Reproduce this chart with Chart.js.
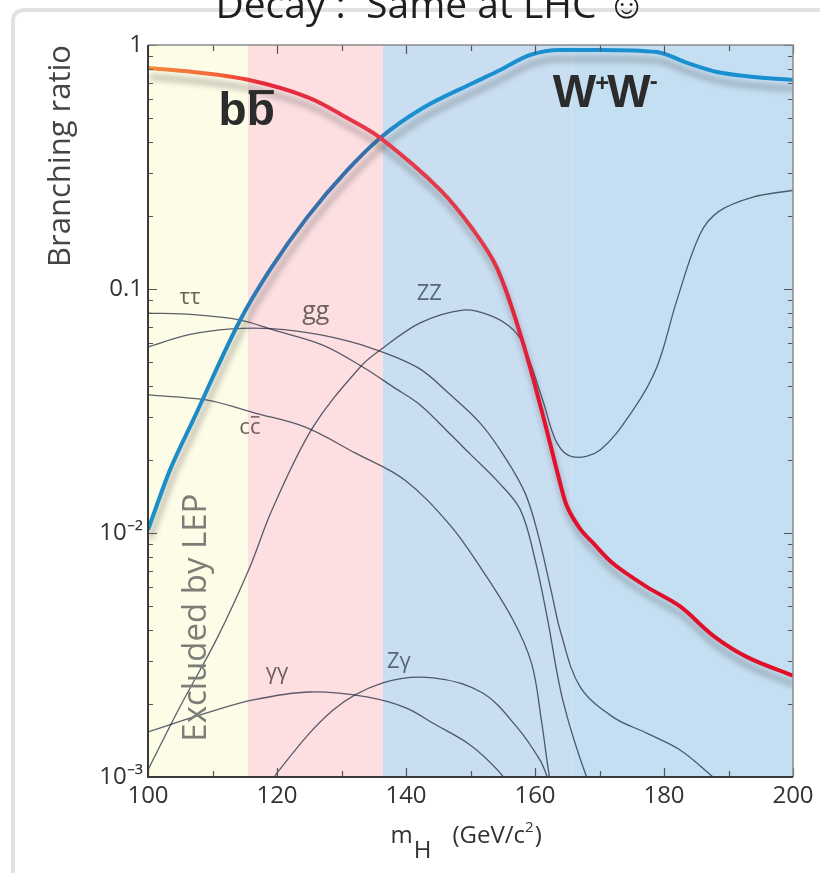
<!DOCTYPE html>
<html>
<head>
<meta charset="utf-8">
<script src="https://cdn.jsdelivr.net/npm/chart.js@4.4.1/dist/chart.umd.min.js"></script>
<style>
  html, body { margin: 0; padding: 0; background: #fff; }
  #wrap { width: 840px; height: 873px; position: relative; }
</style>
</head>
<body>
<div id="wrap"><canvas id="br-chart"></canvas></div>
<script>
// Higgs branching ratios against m_H

const bbMass = [100, 107, 115.5, 124.7, 130.9, 136, 145.3, 150.4, 154.1, 157.9, 161, 163.9, 165, 167, 169, 172.1, 177.4, 182.5, 187.6, 192.9, 200]
const bbBR = [0.805, 0.775, 0.72, 0.612, 0.502, 0.416, 0.255, 0.175, 0.122, 0.063, 0.032, 0.016, 0.0128, 0.0104, 0.0091, 0.0075, 0.006, 0.005, 0.0038, 0.0031, 0.0026]

const wwMass = [100, 103.4, 107, 114.3, 118.9, 124.7, 130.9, 136, 142.6, 150.4, 154.6, 159.2, 163.9, 170, 178.9, 183.6, 188.2, 194, 200]
const wwBR = [0.0103, 0.0181, 0.029, 0.0746, 0.1197, 0.197, 0.307, 0.416, 0.552, 0.699, 0.79, 0.91, 0.955, 0.955, 0.936, 0.844, 0.775, 0.74, 0.719]

const zzMass = [100, 105, 110.7, 115.8, 119.2, 125.6, 132.9, 136, 142.2, 148.8, 153, 156.1, 158.1, 161.2, 163.4, 165.9, 170.1, 175.2, 178.9, 182, 185.6, 188.5, 193.8, 200]
const zzBR = [0.00107, 0.00195, 0.0037, 0.00726, 0.0124, 0.0272, 0.0479, 0.0562, 0.0726, 0.082, 0.078, 0.07, 0.06, 0.035, 0.0234, 0.0205, 0.0219, 0.0319, 0.0479, 0.09, 0.168, 0.208, 0.238, 0.254]

const tautauMass = [100, 107, 114.3, 119.4, 127.1, 133.3, 138, 142.2, 146.8, 150, 154, 157.7, 160, 161.9, 164.3, 168, 170]
const tautauBR = [0.0797, 0.0785, 0.0746, 0.068, 0.0589, 0.0479, 0.0397, 0.0335, 0.0255, 0.021, 0.0165, 0.0125, 0.0078, 0.0045, 0.00207, 0.001, 0.0008]

const ggMass = [100, 106.2, 112.9, 119.1, 126.8, 134.6, 141.9, 146.8, 151.6, 155.3, 158.5, 160.5, 162.5, 164, 167, 172.1, 177.4, 182.5, 187.6, 192]
const ggBR = [0.0578, 0.0648, 0.0686, 0.0688, 0.0648, 0.0573, 0.0475, 0.037, 0.028, 0.0205, 0.0145, 0.0098, 0.0058, 0.0039, 0.00234, 0.00176, 0.00151, 0.00129, 0.001, 0.0008]

const ccMass = [100, 109, 116.6, 124.3, 132.1, 139.8, 146.8, 151.5, 156.6, 159.5, 161, 162, 162.8]
const ccBR = [0.0368, 0.0351, 0.031, 0.0272, 0.0213, 0.0165, 0.0108, 0.00726, 0.0044, 0.0029, 0.0017, 0.0011, 0.0008]

const gamgamMass = [100, 109.1, 116.3, 125.1, 133.9, 140, 144.2, 150, 154.6, 156]
const gamgamBR = [0.00153, 0.00183, 0.00207, 0.00223, 0.00213, 0.00192, 0.00166, 0.00135, 0.00104, 0.0009]

const zgamMass = [119, 120, 128.7, 136.4, 144.2, 151.9, 157.2, 160.8, 161.9, 162.5]
const zgamBR = [0.0009, 0.00104, 0.00188, 0.00243, 0.00255, 0.00221, 0.0016, 0.00117, 0.001, 0.0009]

// mass ranges of the shaded regions
const bandEdges = [100, 115.5, 136.4, 165.7, 200]
const bandColors = ['#fdfce6', '#fddfe2', '#c9def1', '#c4dff2']

const yTickValues = [1, 0.1, 0.01, 0.001]
const yTickLabels = ['1', '0.1', '10⁻²', '10⁻³']

// curve names and where they sit (mass, BR)
const curveNames = ['ττ', 'gg', 'cc', 'ZZ', 'γγ', 'Zγ']
const curveNameSpots = [[106.5, 0.092], [126, 0.0805], [115.8, 0.0269], [143.6, 0.0955], [120, 0.00267], [138.9, 0.00296]]


const pts = (m, v) => m.map((x, i) => ({x: x, y: v[i]}))

const gradientFor = function (stops, fallback) {
  return function (context) {
    const chart = context.chart
    if (!chart.chartArea) return fallback
    const xs = chart.scales.x
    const g = chart.ctx.createLinearGradient(xs.getPixelForValue(100), 0, xs.getPixelForValue(200), 0)
    stops.forEach(s => g.addColorStop((s[0] - 100) / 100, s[1]))
    return g
  }
}

const thin = 'rgba(28, 38, 58, 0.72)'

const thinLine = (label, data) => ({
  label: label,
  data: data,
  borderColor: thin,
  borderWidth: 1.3,
  pointRadius: 0,
  fill: false,
  tension: 0.35
})

const bandsPlugin = {
  id: 'bands',
  beforeDatasetsDraw(chart) {
    const {ctx, chartArea: a, scales: {x}} = chart
    ctx.save()
    for (let i = 0; i < bandEdges.length - 1; i++) {
      const x0 = x.getPixelForValue(bandEdges[i])
      const x1 = x.getPixelForValue(bandEdges[i + 1])
      ctx.fillStyle = bandColors[i]
      ctx.fillRect(x0, a.top, x1 - x0, a.bottom - a.top)
    }
    ctx.restore()
  }
}

const shadowPlugin = {
  id: 'shadow',
  beforeDatasetDraw(chart, args) {
    if (!chart.data.datasets[args.index].shadow) return
    const ctx = chart.ctx
    ctx.save()
    ctx.shadowColor = 'rgba(70, 70, 70, 0.45)'
    ctx.shadowBlur = 6
    ctx.shadowOffsetX = 2
    ctx.shadowOffsetY = 9
  },
  afterDatasetDraw(chart, args) {
    if (chart.data.datasets[args.index].shadow) chart.ctx.restore()
  }
}

const frameTicks = {
  id: 'frameTicks',
  afterDatasetsDraw(chart) {
    const {ctx, chartArea: a, scales: {x, y}} = chart
    ctx.save()
    ctx.strokeStyle = '#555'
    ctx.lineWidth = 1.2
    ctx.beginPath()
    x.ticks.forEach(t => {
      const px = Math.round(x.getPixelForValue(t.value)) + 0.5
      const len = t.value % 20 === 0 ? 9 : 6
      ctx.moveTo(px, a.bottom); ctx.lineTo(px, a.bottom - len)
      ctx.moveTo(px, a.top); ctx.lineTo(px, a.top + len)
    })
    y.ticks.forEach(t => {
      const e = Math.floor(Math.log10(t.value) + 1e-9)
      const sig = t.value / Math.pow(10, e)
      if (Math.abs(sig - Math.round(sig)) > 1e-6) return
      const py = Math.round(y.getPixelForValue(t.value)) + 0.5
      const len = Math.round(sig) === 1 ? 9 : 5
      ctx.moveTo(a.left, py); ctx.lineTo(a.left + len, py)
      ctx.moveTo(a.right, py); ctx.lineTo(a.right - len, py)
    })
    ctx.stroke()
    ctx.strokeStyle = '#8a8a8a'
    ctx.lineWidth = 1.5
    ctx.beginPath()
    ctx.moveTo(a.left, a.top); ctx.lineTo(a.right, a.top); ctx.lineTo(a.right, a.bottom)
    ctx.stroke()
    ctx.strokeStyle = '#3a3a3a'
    ctx.lineWidth = 2
    ctx.beginPath()
    ctx.moveTo(a.left, a.top); ctx.lineTo(a.left, a.bottom); ctx.lineTo(a.right, a.bottom)
    ctx.stroke()
    ctx.restore()
  }
}

const textPlugin = {
  id: 'texts',
  beforeDraw(chart) {
    const ctx = chart.ctx
    ctx.save()
    ctx.fillStyle = '#fff'
    ctx.fillRect(0, 0, chart.width, chart.height)
    // faint slide frame
    ctx.strokeStyle = '#e2e2e2'
    ctx.lineWidth = 4
    ctx.beginPath()
    ctx.moveTo(13, 880); ctx.lineTo(13, 22); ctx.quadraticCurveTo(13, 10, 25, 10); ctx.lineTo(820, 10)
    ctx.stroke()
    ctx.restore()
  },
  afterDraw(chart) {
    const {ctx, chartArea: a, scales: {x, y}} = chart
    ctx.save()
    ctx.textBaseline = 'alphabetic'

    // slide title, cut by the top edge
    ctx.fillStyle = '#1e1e1e'
    ctx.font = '39px "Open Sans"'
    ctx.textAlign = 'center'
    ctx.fillText('Decay :  Same at LHC ☺', 431, 18)

    // x axis title m_H (GeV/c^2)
    ctx.fillStyle = '#333'
    ctx.textAlign = 'left'
    const cx = (a.left + a.right) / 2
    let px = cx - 80
    ctx.font = '24px "Open Sans"'
    ctx.fillText('m', px, 843)
    px += ctx.measureText('m').width + 1
    ctx.fillText('H', px, 858)
    px = cx - 18
    ctx.fillText('(GeV/c', px, 843)
    px += ctx.measureText('(GeV/c').width
    ctx.font = '15px "Open Sans"'
    ctx.fillText('2', px, 832)
    px += ctx.measureText('2').width + 1
    ctx.font = '24px "Open Sans"'
    ctx.fillText(')', px, 843)

    ctx.textBaseline = 'middle'
    ctx.textAlign = 'center'

    // bb-bar
    ctx.fillStyle = '#2b2b2b'
    ctx.font = 'bold 46px "Liberation Sans"'
    const bx = x.getPixelForValue(115.3), by = y.getPixelForValue(0.531)
    const bw = ctx.measureText('b').width
    ctx.textAlign = 'left'
    ctx.fillText('bb', bx - bw, by)
    ctx.fillRect(bx + 2, by - 22, bw - 3, 4)

    // W+W-
    ctx.font = 'bold 46px "Liberation Sans"'
    let wx = x.getPixelForValue(171.6) - 57
    const wy = y.getPixelForValue(0.63)
    const ww = ctx.measureText('W').width
    ctx.fillText('W', wx, wy)
    wx += ww
    ctx.font = 'bold 24px "Liberation Sans"'
    ctx.fillText('+', wx - 1, wy - 10)
    wx += ctx.measureText('+').width - 3
    ctx.font = 'bold 46px "Liberation Sans"'
    ctx.fillText('W', wx, wy)
    wx += ww
    ctx.font = 'bold 24px "Liberation Sans"'
    ctx.fillText('-', wx - 1, wy - 12)

    // smaller curve names
    ctx.textAlign = 'center'
    curveNames.forEach((name, i) => {
      const sx = x.getPixelForValue(curveNameSpots[i][0])
      const sy = y.getPixelForValue(curveNameSpots[i][1])
      const inBlue = curveNameSpots[i][0] > bandEdges[2]
      ctx.fillStyle = inBlue ? '#56667c' : '#6e605c'
      ctx.font = (name === 'gg' ? 25 : 22) + 'px "Open Sans"'
      ctx.fillText(name, sx, sy)
      if (name === 'cc') {
        const cw = ctx.measureText('c').width
        ctx.fillRect(sx + 1, sy - 12, cw - 2, 1.5)
      }
    })

    // excluded region note
    ctx.save()
    ctx.translate(x.getPixelForValue(107.6), y.getPixelForValue(0.0045))
    ctx.rotate(-Math.PI / 2)
    ctx.fillStyle = '#7d7d78'
    ctx.font = '33px "Open Sans"'
    ctx.fillText('Excluded by LEP', 0, 0)
    ctx.restore()

    ctx.restore()
  }
}

const makeChart = function () {
  const ctx = document.getElementById('br-chart')
  return new Chart(ctx, {
    type: 'line',
    data: {
      datasets: [
        {
          label: 'bb',
          data: pts(bbMass, bbBR),
          borderColor: gradientFor([[100, '#f58a3c'], [111, '#f2643a'], [118, '#e8263a'], [136, '#e43a4c'], [152, '#e2384a'], [162, '#e3102c'], [200, '#df1028']], '#e42a3a'),
          borderWidth: 4,
          pointRadius: 0,
          fill: false,
          shadow: true,
          tension: 0.35
        },
        {
          label: 'WW',
          data: pts(wwMass, wwBR),
          borderColor: gradientFor([[100, '#1a90c8'], [112, '#1b8ac4'], [119, '#3473ad'], [133, '#3a6fa8'], [140, '#1b90d0'], [200, '#1a8fd0']], '#1a8fd0'),
          borderWidth: 4,
          pointRadius: 0,
          fill: false,
          shadow: true,
          cubicInterpolationMode: 'monotone'
        },
        thinLine('ZZ', pts(zzMass, zzBR)),
        thinLine('tautau', pts(tautauMass, tautauBR)),
        thinLine('gg', pts(ggMass, ggBR)),
        thinLine('cc', pts(ccMass, ccBR)),
        thinLine('gamgam', pts(gamgamMass, gamgamBR)),
        thinLine('Zgam', pts(zgamMass, zgamBR))
      ]
    },
    options: {
      responsive: true,
      maintainAspectRatio: false,
      animation: false,
      layout: { padding: { top: 45, right: 47, bottom: 0, left: 0 } },
      plugins: {
        legend: { display: false },
        tooltip: { enabled: false }
      },
      scales: {
        x: {
          type: 'linear',
          min: 100,
          max: 200,
          grid: { display: false, drawTicks: false },
          border: { display: false },
          afterFit: function (scale) { scale.height = 96 },
          ticks: {
            stepSize: 10,
            autoSkip: false,
            maxRotation: 0,
            padding: 5,
            color: '#333',
            font: { family: 'Open Sans', size: 24 },
            callback: function (v) { return v % 20 === 0 ? String(v) : '' }
          }
        },
        y: {
          type: 'logarithmic',
          min: 0.001,
          max: 1,
          grid: { display: false, drawTicks: false },
          border: { display: false },
          afterFit: function (scale) { scale.width = 148 },
          title: {
            display: true,
            text: 'Branching ratio',
            align: 'end',
            color: '#444',
            font: { family: 'Open Sans', size: 31 },
            padding: { top: 43, bottom: 0 }
          },
          ticks: {
            autoSkip: false,
            padding: 5,
            color: '#333',
            font: { family: 'Open Sans', size: 24 },
            callback: function (v) {
              const i = yTickValues.findIndex(t => Math.abs(Math.log10(v) - Math.log10(t)) < 1e-6)
              return i >= 0 ? yTickLabels[i] : ''
            }
          }
        }
      }
    },
    plugins: [bandsPlugin, shadowPlugin, frameTicks, textPlugin]
  })
}

makeChart()
</script>
</body>
</html>
